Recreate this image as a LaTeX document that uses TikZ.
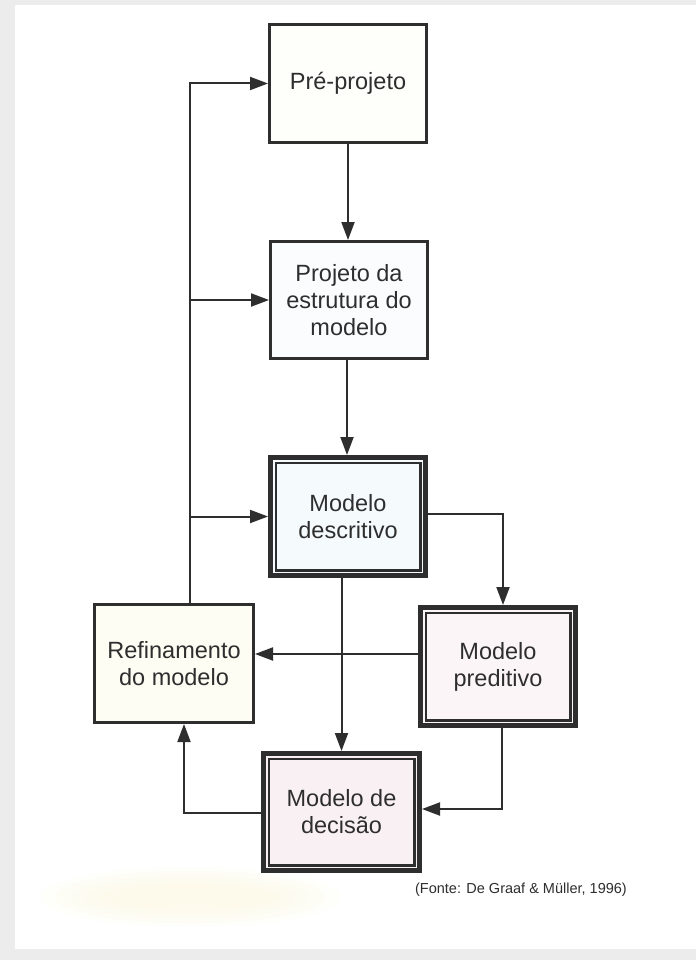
\documentclass[tikz,border=0pt]{standalone}
\usepackage{fontspec}
\setmainfont{Liberation Sans}
\usetikzlibrary{arrows.meta,calc}

\definecolor{ink}{HTML}{2E2E2E}
\definecolor{pagegray}{HTML}{ECECEC}
\definecolor{fillpre}{HTML}{FEFEFA}
\definecolor{fillproj}{HTML}{FAFCFD}
\definecolor{filldesc}{HTML}{F5FAFC}
\definecolor{fillref}{HTML}{FDFDF4}
\definecolor{fillpred}{HTML}{FCF5F8}
\definecolor{filldec}{HTML}{F9F0F4}
\definecolor{smudge}{HTML}{FDF8DC}

\tikzset{
  boxtext/.style={align=center, text=ink,
    font=\fontsize{23.5}{27}\selectfont, inner sep=0pt},
  plainbox/.style={boxtext, draw=ink, line width=3pt,
    minimum width=#1},
  plainbox/.default=157pt,
  triplebox/.style={boxtext, draw=ink, line width=4pt},
  conn/.style={draw=ink, line width=2pt},
  arr/.style={conn, -{Triangle[length=18pt,width=13pt]}},
  haze/.style={fill=smudge, fill opacity=0.12},
}

% two inner frames that turn a 4pt border into a triple frame
\newcommand\innerframes[1]{%
  \draw[ink, line width=1.3pt]
    ($(#1.north west)+(4.5,4.5)$) rectangle ($(#1.south east)+(-4.5,-4.5)$);
  \draw[ink, line width=2.6pt]
    ($(#1.north west)+(7.8,7.8)$) rectangle ($(#1.south east)+(-7.8,-7.8)$);
}

\begin{document}
\begin{tikzpicture}[x=1pt, y=-1pt]
\useasboundingbox (0,0) rectangle (696,960);

% page and surrounding margin
\fill[pagegray] (0,0) rectangle (696,960);
\fill[white] (15,5) rectangle (696,949);
% faint stain near the lower left corner
\foreach \rx/\ry in {150/30, 135/26, 120/22, 105/18, 90/14}
  \fill[haze] (190,897) ellipse [x radius=\rx, y radius=\ry];

% boxes
\node[plainbox, fill=fillpre, minimum height=118pt] (pre) at (348,83.5) {Pré-projeto};
\node[plainbox, fill=fillproj, minimum height=117pt] (proj) at (349,300)
  {Projeto da\\estrutura do\\modelo};
\node[triplebox, fill=filldesc, minimum width=156pt, minimum height=119pt] (desc)
  at (348,516.5) {Modelo\\descritivo};
\node[plainbox=159pt, fill=fillref, minimum height=118pt] (ref) at (174,663.5)
  {Refinamento\\do modelo};
\node[triplebox, fill=fillpred, minimum width=156pt, minimum height=119pt] (pred)
  at (498,666.5) {Modelo\\preditivo};
\node[triplebox, fill=filldec, minimum width=157pt, minimum height=118pt] (dec)
  at (341.5,812) {Modelo de\\decisão};

\innerframes{desc}
\innerframes{pred}
\innerframes{dec}

% reference points for the connector routes
\coordinate (loopx) at (190,0);
\coordinate (predlink) at (0,654);

% main chain
\draw[arr] (pre.south) -- (pre.south |- proj.north);
\draw[arr] ([xshift=-2pt]proj.south) -- ([xshift=-2pt]proj.south |- desc.north);

% feedback loop from the refinement step
\draw[arr] (ref.north -| loopx) |- (pre.west);
\draw[arr] (loopx |- proj.west) -- (proj.west);
\draw[arr] (loopx |- desc.west) -- (desc.west);

% outputs of the descriptive model
\draw[arr] ([yshift=2.5pt]desc.east) -| ([xshift=5pt]pred.north);
\draw[arr] (dec.north |- desc.south) -- (dec.north);

% predictive model links
\draw[arr] (pred.west |- predlink) -- (ref.east |- predlink);
\draw[arr] ([xshift=4pt]pred.south) |- ([yshift=3pt]dec.east);

% decision model back to refinement
\draw[arr] ([yshift=-1pt]dec.west) -| ([xshift=10pt]ref.south);

% source note
\node[anchor=east, text=ink, font=\fontsize{14.5}{17}\selectfont, inner sep=0pt]
  (src) at (627,890) {(Fonte: De Graaf \& Müller, 1996)};
\end{tikzpicture}
\end{document}
